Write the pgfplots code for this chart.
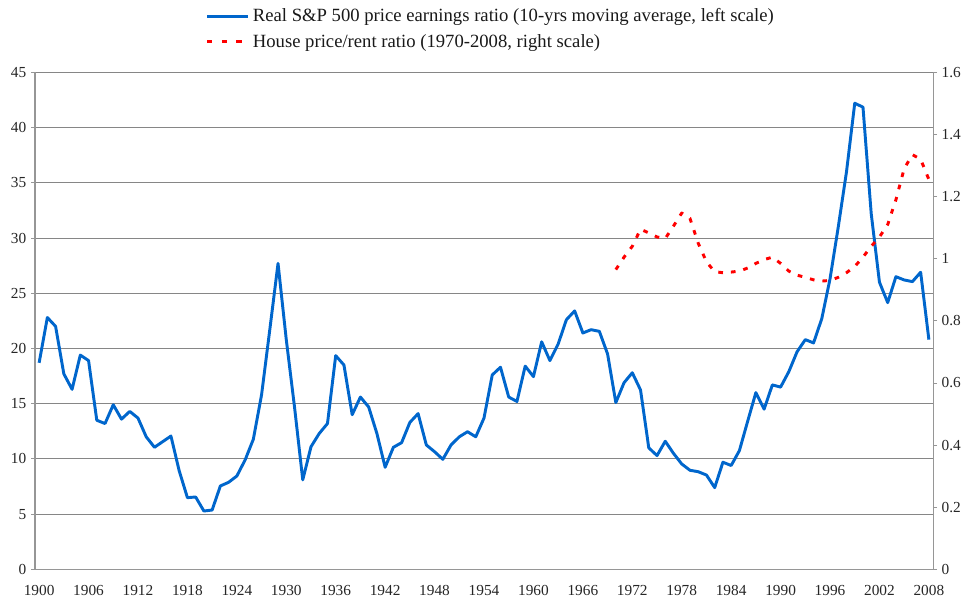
\documentclass[border=0pt]{standalone}
\usepackage{fontspec}
\setmainfont{Liberation Serif}
\usepackage{pgfplots}
\usepackage{pgfplotstable}
\pgfplotsset{compat=1.18}
\definecolor{spblue}{RGB}{0,102,204}
\definecolor{gridgray}{RGB}{134,134,134}
\definecolor{axgray}{RGB}{150,150,150}

\pgfplotstableread{
year pe
1900 18.7
1901 22.8
1902 22.0
1903 17.7
1904 16.3
1905 19.4
1906 18.9
1907 13.5
1908 13.2
1909 14.9
1910 13.6
1911 14.3
1912 13.7
1913 12.0
1914 11.05
1915 11.56
1916 12.07
1917 8.93
1918 6.49
1919 6.55
1920 5.28
1921 5.37
1922 7.55
1923 7.88
1924 8.45
1925 9.9
1926 11.77
1927 15.8
1928 21.7
1929 27.7
1930 20.8
1931 14.7
1932 8.1
1933 11.1
1934 12.3
1935 13.2
1936 19.35
1937 18.5
1938 14.0
1939 15.6
1940 14.7
1941 12.3
1942 9.24
1943 11.05
1944 11.47
1945 13.3
1946 14.1
1947 11.26
1948 10.65
1949 9.96
1950 11.26
1951 12.0
1952 12.46
1953 12.0
1954 13.7
1955 17.6
1956 18.3
1957 15.6
1958 15.2
1959 18.4
1960 17.45
1961 20.6
1962 18.9
1963 20.4
1964 22.6
1965 23.4
1966 21.4
1967 21.7
1968 21.55
1969 19.5
1970 15.1
1971 16.9
1972 17.8
1973 16.24
1974 11.0
1975 10.3
1976 11.6
1977 10.5
1978 9.54
1979 8.97
1980 8.84
1981 8.54
1982 7.4
1983 9.7
1984 9.4
1985 10.75
1986 13.4
1987 16.0
1988 14.5
1989 16.7
1990 16.5
1991 17.9
1992 19.7
1993 20.8
1994 20.5
1995 22.7
1996 26.3
1997 31.0
1998 36.0
1999 42.2
2000 41.85
2001 32.2
2002 26.0
2003 24.15
2004 26.5
2005 26.2
2006 26.05
2007 26.9
2008 20.8
}\petable

\pgfplotstableread{
year pr
1970 0.965
1971 1.005
1972 1.04
1973 1.095
1974 1.083
1975 1.07
1976 1.065
1977 1.105
1978 1.147
1979 1.13
1980 1.05
1981 0.99
1982 0.958
1983 0.955
1984 0.957
1985 0.96
1986 0.97
1987 0.985
1988 0.997
1989 1.005
1990 0.985
1991 0.96
1992 0.947
1993 0.94
1994 0.932
1995 0.928
1996 0.93
1997 0.94
1998 0.955
1999 0.975
2000 1.005
2001 1.04
2002 1.07
2003 1.11
2004 1.19
2005 1.29
2006 1.335
2007 1.32
2008 1.255
}\prtable

\begin{document}
\begin{tikzpicture}
\pgfplotsset{
  common/.style={
    scale only axis,
    width=673.5pt, height=372.75pt,
    xmin=1899.5, xmax=2008.5,
    ticklabel style={font=\fontsize{11.5}{13}\selectfont, text=black!85},
    /pgf/number format/assume math mode=true,
    /pgf/number format/1000 sep={},
    tick align=outside,
    major tick length=3pt,
    tick style={axgray, line width=0.6pt},
    axis line style={axgray, line width=0.75pt, -},
  }
}
\begin{axis}[
  common,
  ymin=0, ymax=45,
  ytick={0,5,...,45},
  axis x line*=bottom,
  axis y line*=left,
  xtick={1900,1906,...,2008},
  xtick style={draw=none},
  xticklabel style={yshift=-5.5pt},
  extra x ticks={1899.5,1905.5,...,2007.5},
  extra x tick labels={},
  extra x tick style={grid=none, xtick style={axgray, line width=0.6pt}, major tick length=3pt},
  ymajorgrids,
  grid style={gridgray, line width=0.75pt},
  legend style={at={(axis description cs:0.19,1.135)}, anchor=north west,
    draw=none, fill=none, inner sep=0pt, outer sep=0pt,
    font=\fontsize{14}{16}\selectfont, row sep=3pt,
    nodes={inner sep=2.5pt, text=black!90}},
  legend cell align=left,
  legend image code/.code={\draw[#1] (0pt,0pt) -- (30.75pt,0pt);},
]
\addplot[spblue, line width=2.2pt, line join=round] table[x=year, y=pe] {\petable};
\addlegendentry{Real S\&P 500 price earnings ratio (10-yrs moving average, left scale)}
\addlegendimage{red, line width=2.2pt, dash pattern=on 4pt off 7pt}
\addlegendentry{House price/rent ratio (1970-2008, right scale)}
\end{axis}
\begin{axis}[
  common,
  ymin=0, ymax=1.6,
  ytick={0,0.2,...,1.6},
  axis x line=none,
  axis y line*=right,
  yticklabel style={/pgf/number format/fixed},
]
\addplot[red, line width=2.2pt, dash pattern=on 3.5pt off 6pt, line join=round] table[x=year, y=pr] {\prtable};
\end{axis}
\pgfresetboundingbox
\path[use as bounding box] (-26.25pt,-24pt) rectangle (705pt,427pt);
\end{tikzpicture}
\end{document}
